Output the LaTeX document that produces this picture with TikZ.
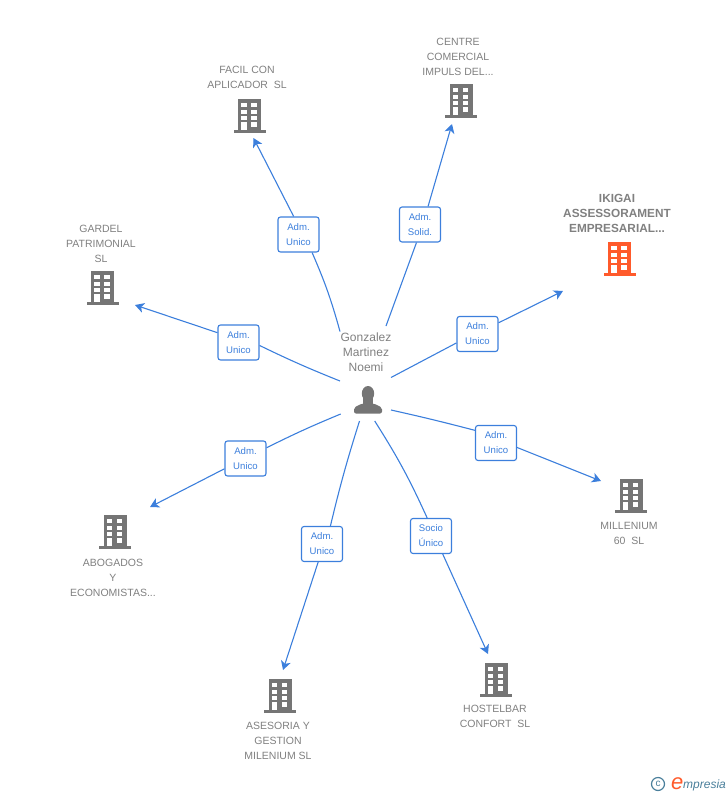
\documentclass[tikz,border=0pt]{standalone}
\usepackage{fontspec}
\setmainfont{Liberation Sans}
\usetikzlibrary{arrows.meta}
\definecolor{linkblue}{HTML}{3C7FDC}
\definecolor{icongray}{HTML}{757575}
\definecolor{textgray}{HTML}{808080}
\definecolor{hotorange}{HTML}{FF5A2B}
\definecolor{logoblue}{HTML}{4A7F9B}
\tikzset{
  company/.style={text=textgray,align=center,font=\fontsize{10.5}{15}\selectfont},
  rolebox/.style={draw=linkblue,fill=white,rounded corners=2.5pt,line width=1.1pt,text=linkblue,align=center,
    minimum width=41pt,minimum height=35pt,inner sep=0pt,font=\fontsize{9.6}{15}\selectfont},
  link/.style={linkblue,line width=1.1pt},
  linkarrow/.style={link,-{Stealth[length=9pt,width=10pt,inset=2.5pt]}},
  building/.pic={
    \fill[pic actions] (-11.5,-34) rectangle (11.5,0);
    \fill[pic actions] (-16,-3) rectangle (16,0);
    \foreach \yy in {-30,-23,-17}{
      \fill[white] (-8.2,\yy) rectangle (-2.8,\yy+4);
      \fill[white] (1.8,\yy) rectangle (7.2,\yy+4);
    }
    \fill[white] (-8.2,-11) rectangle (-2.8,-3);
    \fill[white] (1.8,-11) rectangle (7.2,-6);
  }
}
\begin{document}
\begin{tikzpicture}[x=1pt,y=-1pt]
  \useasboundingbox (0,0) rectangle (728,795);

  % person in the middle
  \node[company,font=\fontsize{12}{15}\selectfont] (noemi) at (366,352) {Gonzalez\\Martinez\\Noemi};
  \fill[icongray] (368,393.5) ellipse (6.2 and 7.5);
  \fill[icongray] (363,397) rectangle (373,405);
  \fill[icongray,rounded corners=2pt] (354,413.5) -- (354,407.5) -- (362,403.5) -- (374,403.5) -- (382,407.5) -- (382,413.5) -- cycle;

  % companies
  \pic[icongray] at (249.5,133) {building};
  \pic[icongray] at (461,118) {building};
  \pic[hotorange] at (619.5,276) {building};
  \pic[icongray] at (102.5,305) {building};
  \pic[icongray] at (631,513) {building};
  \pic[icongray] at (115,549) {building};
  \pic[icongray] at (280,713) {building};
  \pic[icongray] at (496,697) {building};

  \node[company] (facil) at (247,77.5) {FACIL CON\\APLICADOR\ \ SL};
  \node[company] (centre) at (458,56.5) {CENTRE\\COMERCIAL\\IMPULS DEL...};
  \node[company,font=\fontsize{11.8}{15}\selectfont\bfseries] (ikigai) at (617,213) {IKIGAI\\ASSESSORAMENT\\EMPRESARIAL...};
  \node[company] (gardel) at (101,243.5) {GARDEL\\PATRIMONIAL\\SL};
  \node[company] (millenium) at (629,533) {MILLENIUM\\60\ \ SL};
  \node[company] (abogados) at (113,577.5) {ABOGADOS\\Y\\ECONOMISTAS...};
  \node[company] (asesoria) at (278,740.5) {ASESORIA Y\\GESTION\\MILENIUM SL};
  \node[company] (hostelbar) at (495,716.5) {HOSTELBAR\\CONFORT\ \ SL};

  % role boxes
  \node[rolebox] (rfacil) at (298.5,234.5) {Adm.\\Unico};
  \node[rolebox] (rcentre) at (420,224.5) {Adm.\\Solid.};
  \node[rolebox] (rikigai) at (477.5,334) {Adm.\\Unico};
  \node[rolebox] (rgardel) at (238.5,342.5) {Adm.\\Unico};
  \node[rolebox] (rmillenium) at (496,443) {Adm.\\Unico};
  \node[rolebox] (rabogados) at (245.5,458.5) {Adm.\\Unico};
  \node[rolebox] (rasesoria) at (322,544) {Adm.\\Unico};
  \node[rolebox] (rhostelbar) at (431,536) {Socio\\Único};

  % free ends
  \coordinate (sfacil) at (340,331.5);
  \coordinate (scentre) at (386,326);
  \coordinate (sikigai) at (391,377.5);
  \coordinate (sgardel) at (340,381);
  \coordinate (smillenium) at (391,410);
  \coordinate (sabogados) at (340.7,414);
  \coordinate (sasesoria) at (359.5,421);
  \coordinate (shostelbar) at (374.7,421);
  \coordinate (efacil) at (253.5,138);
  \coordinate (ecentre) at (452,124);
  \coordinate (eikigai) at (563,291);
  \coordinate (egardel) at (135,305);
  \coordinate (emillenium) at (601,481);
  \coordinate (eabogados) at (150,507);
  \coordinate (easesoria) at (283,670);
  \coordinate (ehostelbar) at (488,654);

  % connectors
  \draw[link] (sfacil) to[bend right=4] (rfacil.-53.4);
  \draw[linkarrow] (rfacil.105.6) -- (efacil);
  \draw[link] (scentre) -- (rcentre.259);
  \draw[linkarrow] (rcentre.66.6) -- (ecentre);
  \draw[link] (sikigai) -- (rikigai.203.3);
  \draw[linkarrow] (rikigai.28.5) -- (eikigai);
  \draw[link] (sgardel) to[bend left=2] (rgardel.-8.7);
  \draw[linkarrow] (rgardel.155.5) -- (egardel);
  \draw[link] (smillenium) to[bend left=1] (rmillenium.149.4);
  \draw[linkarrow] (rmillenium.-12.6) -- (emillenium);
  \draw[link] (sabogados) to[bend right=2] (rabogados.27.8);
  \draw[linkarrow] (rabogados.206.3) -- (eabogados);
  \draw[link] (sasesoria) to[bend right=2] (rasesoria.65.2);
  \draw[linkarrow] (rasesoria.258.2) -- (easesoria);
  \draw[link] (shostelbar) to[bend left=4] (rhostelbar.102);
  \draw[linkarrow] (rhostelbar.-57.4) -- (ehostelbar);

  % logo
  \node[draw=logoblue,circle,line width=1.2pt,inner sep=0pt,minimum size=13pt,text=logoblue,font=\fontsize{10}{10}\selectfont] (logoc) at (658,784) {c};
  \node[anchor=base west,inner sep=0pt,text=hotorange,font=\fontsize{22}{22}\selectfont\itshape] (logoe) at (671,789) {e};
  \node[anchor=base west,inner sep=0pt,text=logoblue,font=\fontsize{12}{12}\selectfont\itshape] (logot) at (683,788) {mpresia};
\end{tikzpicture}
\end{document}
